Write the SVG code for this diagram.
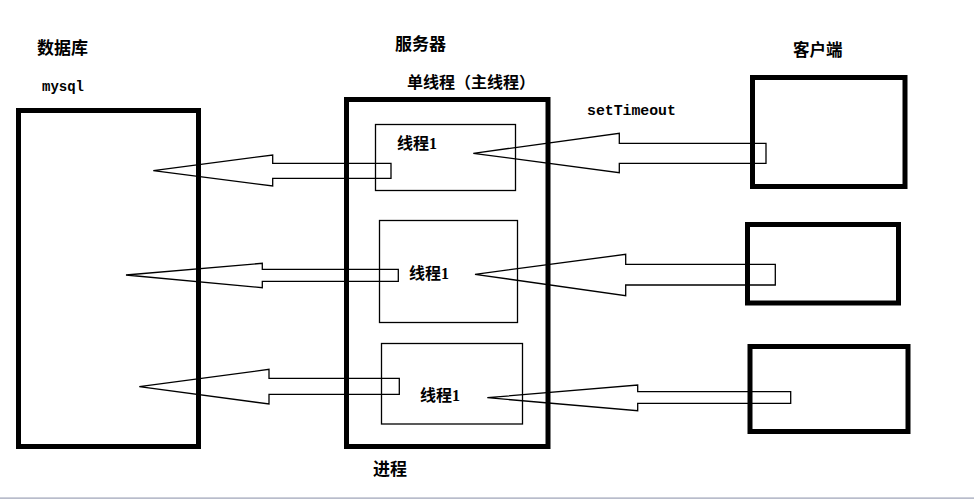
<svg xmlns="http://www.w3.org/2000/svg" width="974" height="499" viewBox="0 0 974 499">
<style>
.thick{fill:none;stroke:#000;stroke-width:5}
.thin{fill:none;stroke:#000;stroke-width:1.3}
.arrow{fill:none;stroke:#000;stroke-width:1.3;stroke-linejoin:miter}
.cjk{font-family:"Noto Sans CJK SC","Liberation Sans",sans-serif;font-weight:bold;fill:#000}
.thr{font-family:"Liberation Serif","Noto Sans CJK SC",serif;font-weight:bold;font-size:16px;fill:#000}
.mono{font-family:"Liberation Mono",monospace;font-weight:bold;fill:#000}
</style>
<rect width="974" height="499" fill="#fff"/>
<g id="database">
<rect class="thick" x="18.5" y="110.5" width="180" height="336"/>
<text class="cjk" x="37" y="53.5" font-size="17">数据库</text>
<text class="mono" x="42" y="91" font-size="14">mysql</text>
</g>
<g id="server">
<rect class="thick" x="346.5" y="99.5" width="201.5" height="347"/>
<text class="cjk" x="395" y="49.5" font-size="17">服务器</text>
<text class="cjk" x="407" y="88" font-size="16">单线程（主线程）</text>
<text class="cjk" x="373" y="474.5" font-size="17">进程</text>
</g>
<g id="thread1">
<rect class="thin" x="375.5" y="124.5" width="140" height="66"/>
<text class="thr" x="397" y="149">线程1</text>
</g>
<g id="thread2">
<rect class="thin" x="379.5" y="220.5" width="138" height="102"/>
<text class="thr" x="409" y="279">线程1</text>
</g>
<g id="thread3">
<rect class="thin" x="381.5" y="343.5" width="141" height="80.5"/>
<text class="thr" x="420" y="401">线程1</text>
</g>
<g id="client">
<text class="cjk" x="793" y="56" font-size="16.5">客户端</text>
<text class="mono" x="587" y="115" font-size="14.8">setTimeout</text>
</g>
<g id="client1"><rect class="thick" x="752.5" y="77.5" width="152.5" height="109"/></g>
<g id="client2"><rect class="thick" x="747.5" y="224.5" width="151" height="78.5"/></g>
<g id="client3"><rect class="thick" x="750" y="346.5" width="158" height="85"/></g>
<g id="connectors">
<polygon class="arrow" points="153.3,170.7 272.7,155 272.7,163.3 391,163.3 391,178.3 272.7,178.3 272.7,186"/>
<polygon class="arrow" points="473.3,153.3 619.3,133.3 619.3,143.3 766,143.3 766,163.3 619.3,163.3 619.3,172.7"/>
<polygon class="arrow" points="126,275 262.3,263.3 262.3,269.3 398.3,269.3 398.3,281.3 262.3,281.3 262.3,287.7"/>
<polygon class="arrow" points="475,274.3 625.7,254.3 625.7,264.3 775.3,264.3 775.3,285 625.7,285 625.7,295.7"/>
<polygon class="arrow" points="139.3,386.7 269,369.3 269,378.3 399.3,378.3 399.3,394.3 269,394.3 269,404"/>
<polygon class="arrow" points="487.3,397.7 637.7,385 637.7,391.7 790.7,391.7 790.7,403.3 637.7,403.3 637.7,410.7"/>
</g>
<rect x="0" y="497.3" width="974" height="1.7" fill="#b8bccb"/>
</svg>
